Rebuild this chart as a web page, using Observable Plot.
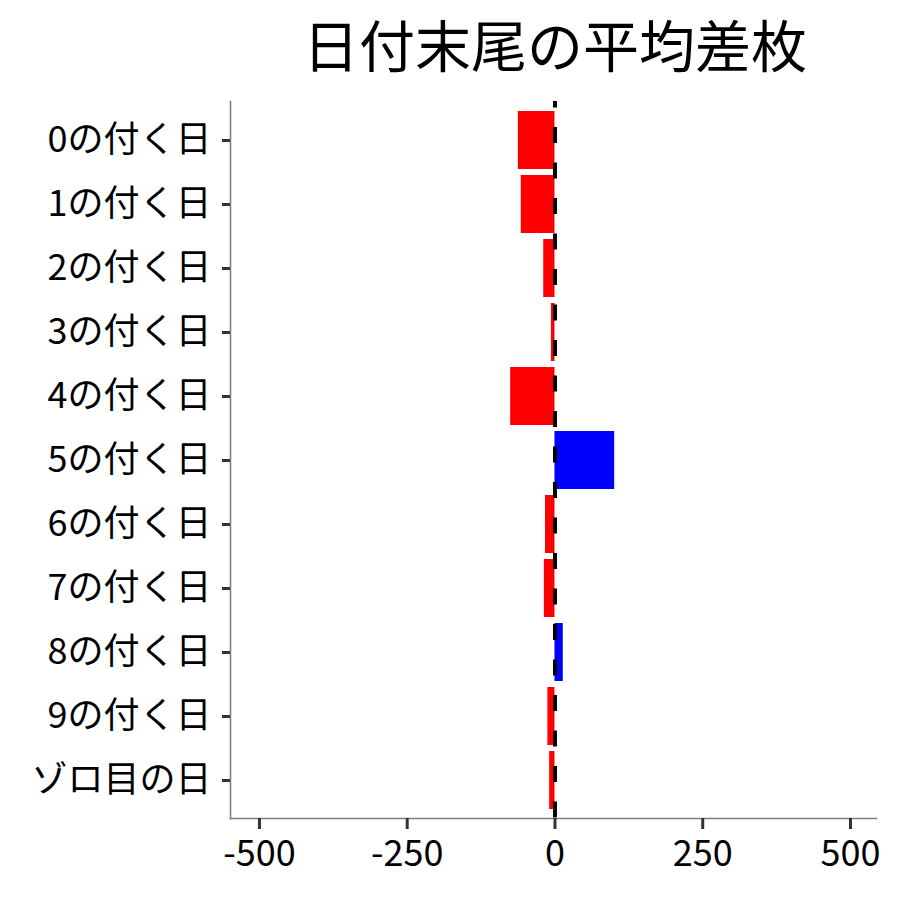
<!DOCTYPE html>
<html>
<head>
<meta charset="utf-8">
<script src="https://cdn.jsdelivr.net/npm/d3@7"></script>
<script src="https://cdn.jsdelivr.net/npm/@observablehq/plot@0.6"></script>
<style>
  body { margin: 0; background: #fff; font-family: "Noto Sans CJK JP", sans-serif; }
  #title { width: 694px; padding-left: 208px; height: 95px; text-align: center;
           font-size: 56px; line-height: 86px; color: #000; white-space: nowrap; }
</style>
</head>
<body>
<div id="title">日付末尾の平均差枚</div>
<div id="chart"></div>
<script>
const categories = ["0の付く日","1の付く日","2の付く日","3の付く日","4の付く日","5の付く日","6の付く日","7の付く日","8の付く日","9の付く日","ゾロ目の日"];
const values = [-62, -57, -19, -6, -75, 101, -16, -18, 14, -12, -9];
const xTicks = [-500, -250, 0, 250, 500];
const xDomain = [-549, 544];

const data = categories.map((c, i) => ({cat: c, v: values[i]}));

const chart = Plot.plot({
  width: 900,
  height: 805,
  marginTop: 6,
  marginBottom: 82,
  marginLeft: 230,
  marginRight: 24,
  style: {fontFamily: "Noto Sans CJK JP", fontSize: "36px", color: "#000", background: "#fff"},
  x: {domain: xDomain, ticks: xTicks, label: null},
  y: {domain: categories, paddingInner: 0.1, paddingOuter: 0.15, label: null},
  marks: [
    Plot.barX(data, {x: "v", y: "cat", fill: d => d.v >= 0 ? "#0000FF" : "#FF0000"}),
    Plot.ruleX([0], {stroke: "#000", strokeWidth: 4, strokeDasharray: "16,19.5", strokeDashoffset: 9.5}),
    Plot.frame({anchor: "left", stroke: "#7f7f7f", strokeWidth: 1.6}),
    Plot.frame({anchor: "bottom", stroke: "#7f7f7f", strokeWidth: 1.6}),
    Plot.axisX({ticks: xTicks, tickSize: 11, tickPadding: 11, stroke: "#333", strokeWidth: 3, fill: "#000", fontSize: 36, label: null, tickFormat: d => String(d)}),
    Plot.axisY({tickSize: 8, tickPadding: 11, stroke: "#333", strokeWidth: 3, fill: "#000", fontSize: 36, label: null})
  ]
});
document.getElementById("chart").appendChild(chart);
</script>
</body>
</html>
